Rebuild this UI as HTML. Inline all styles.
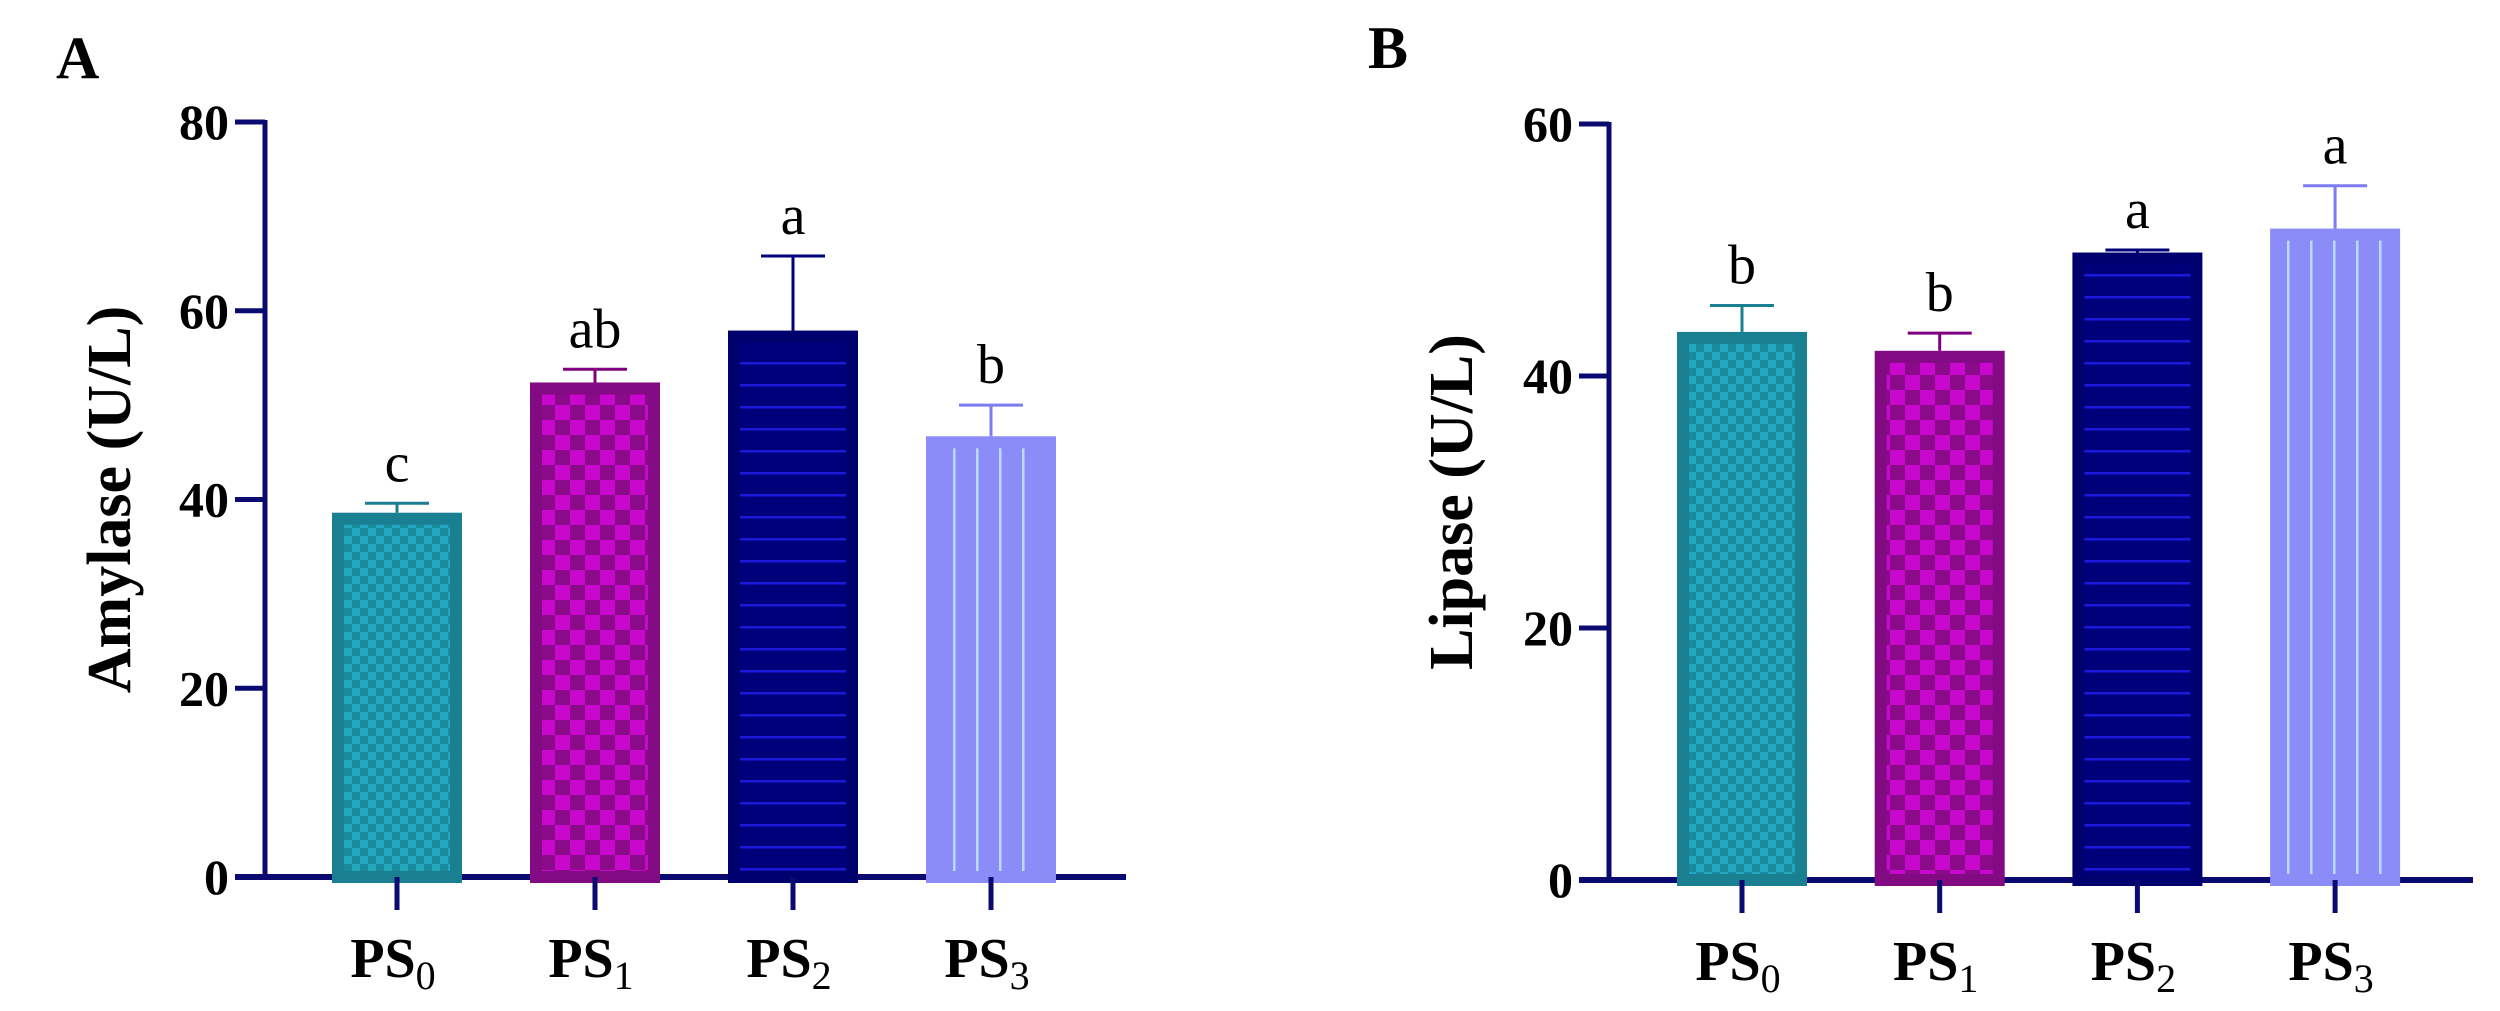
<!DOCTYPE html>
<html><head><meta charset="utf-8">
<style>
html,body{margin:0;padding:0;background:#fff;}
svg{display:block;font-family:"Liberation Serif",serif;}
</style></head>
<body>
<svg id="chart" width="2500" height="1011" viewBox="0 0 2500 1011">
<defs>
<pattern id="pTeal" patternUnits="userSpaceOnUse" width="16" height="16">
<rect width="16" height="16" fill="#1a8b9c"/><rect width="8" height="8" fill="#22a9c0"/><rect x="8" y="8" width="8" height="8" fill="#22a9c0"/>
</pattern>
<pattern id="pMag" patternUnits="userSpaceOnUse" width="30" height="30">
<rect width="30" height="30" fill="#8a0a8a"/><rect width="15" height="15" fill="#c808cc"/><rect x="15" y="15" width="15" height="15" fill="#c808cc"/>
</pattern>
<pattern id="pNavy" patternUnits="userSpaceOnUse" width="30" height="22">
<rect width="30" height="22" fill="#00007a"/><rect y="10" width="30" height="2.5" fill="#1a1ad8"/>
</pattern>
<pattern id="pLav" patternUnits="userSpaceOnUse" width="23" height="30">
<rect width="23" height="30" fill="#8c8cf8"/><rect x="10" width="2.5" height="30" fill="#b8dcff"/>
</pattern>
</defs>
<text x="56" y="78" font-size="60" font-weight="bold">A</text>
<text x="1368" y="68" font-size="60" font-weight="bold">B</text>
<g id="panelA"></g>
<g id="panelB"></g>
</svg>
<script>
const categories = ["PS0","PS1","PS2","PS3"];
const amylaseValues = [38.6, 52.4, 57.9, 46.7];
const amylaseErrors = [1.0, 1.4, 7.9, 3.3];
const amylaseLetters = ["c","ab","a","b"];
const amylaseTicks = [0,20,40,60,80];
const lipaseValues = [43.5, 42.0, 49.8, 51.7];
const lipaseErrors = [2.1, 1.4, 0.2, 3.4];
const lipaseLetters = ["b","b","a","a"];
const lipaseTicks = [0,20,40,60];

const fills = ["url(#pTeal)","url(#pMag)","url(#pNavy)","url(#pLav)"];
const borders = ["#1a7f90","#820a82","#00006e","#8c8cf8"];
const errColors = ["#1a7f90","#800080","#00007a","#7c7cf0"];
const AX = "#0a0a70";
const NS = "http://www.w3.org/2000/svg";
function mk(tag, attrs, parent){const e=document.createElementNS(NS,tag);for(const k in attrs)e.setAttribute(k,attrs[k]);parent.appendChild(e);return e;}

function drawPanel(g, cfg){
  const y = v => cfg.y0 - (v/cfg.ymax)*(cfg.y0-cfg.yTop);
  const x = i => cfg.xFirst + i*cfg.step;
  // y axis
  let e = mk("line",{x1:cfg.axX,y1:y(cfg.ymax)-2,x2:cfg.axX,y2:cfg.y0+3,stroke:AX,"stroke-width":5},g);
  
  
  cfg.ticks.forEach(t=>{
    const l = mk("line",{x1:cfg.axX-30,y1:y(t),x2:cfg.axX,y2:y(t),stroke:AX,"stroke-width":5},g);
    
    
    const tx = mk("text",{x:cfg.axX-36,y:y(t)+17,"font-size":50,"font-weight":"bold","text-anchor":"end"},g);
    tx.textContent = t;
    
    
  });
  // x axis
  e = mk("line",{x1:cfg.axX-30,y1:cfg.y0,x2:cfg.xEnd,y2:cfg.y0,stroke:AX,"stroke-width":6},g);
  
  
  // title
  const tt = mk("text",{x:0,y:0,"font-size":62,"font-weight":"bold","text-anchor":"middle",transform:`translate(${cfg.titleX},${(y(cfg.ymax)+cfg.y0)/2}) rotate(-90)`},g);
  tt.textContent = cfg.title;
  
  
  categories.forEach((c,i)=>{
    const cx = x(i), w = 130, v = cfg.values[i], top = y(v);
    const b = mk("rect",{x:cx-w/2+6,y:top+6,width:w-12,height:cfg.y0-top-6,fill:fills[i],stroke:borders[i],"stroke-width":12},g);
    
    
    const et = y(v+cfg.errors[i]);
    const el = mk("path",{d:`M${cx},${top} V${et} M${cx-32},${et} H${cx+32}`,stroke:errColors[i],"stroke-width":3,fill:"none"},g);
    
    
    const lt = mk("text",{x:cx,y:et-22,"font-size":56,"text-anchor":"middle"},g);
    lt.textContent = cfg.letters[i];
    
    
    const tk = mk("line",{x1:cx,y1:cfg.y0,x2:cx,y2:cfg.y0+33,stroke:AX,"stroke-width":5},g);
    
    
    const xl = mk("text",{x:cx-4,y:cfg.y0+100,"font-size":56,"font-weight":"bold","text-anchor":"middle"},g);
    
    
    const s1 = mk("tspan",{},xl); s1.textContent = c.slice(0,2);
    const s2 = mk("tspan",{"font-size":40,"font-weight":"normal",dy:12}, xl); s2.textContent = c.slice(2);
  });
}
drawPanel(document.getElementById("panelA"),{values:amylaseValues,errors:amylaseErrors,letters:amylaseLetters,ticks:amylaseTicks,ymax:80,y0:877,yTop:122,axX:265,xFirst:397,step:198,xEnd:1126,titleX:130,title:"Amylase (U/L)"});
drawPanel(document.getElementById("panelB"),{values:lipaseValues,errors:lipaseErrors,letters:lipaseLetters,ticks:lipaseTicks,ymax:60,y0:880,yTop:124,axX:1609,xFirst:1742,step:197.7,xEnd:2473,titleX:1472,title:"Lipase (U/L)"});
</script>
</body></html>
